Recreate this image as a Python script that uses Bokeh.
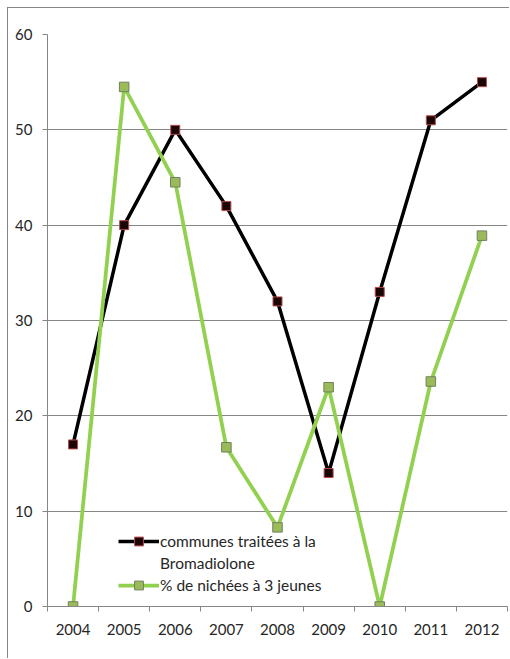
from bokeh.plotting import figure
from bokeh.models import Range1d, FixedTicker, Legend, LegendItem
from bokeh.embed import file_html
from bokeh.resources import INLINE

years = [2004, 2005, 2006, 2007, 2008, 2009, 2010, 2011, 2012]
communes = [17, 40, 50, 42, 32, 14, 33, 51, 55]
nichees = [0, 54.5, 44.5, 16.7, 8.3, 23, 0, 23.6, 38.9]
y_ticks = [0, 10, 20, 30, 40, 50, 60]
label_communes_1 = "communes traitées à la"
label_communes_2 = "Bromadiolone"
label_nichees = "% de nichées à 3 jeunes"

FONT = "Lato"
GRAY = "#868686"
TXT = "#262626"

p = figure(width=502, height=651, output_backend="svg", toolbar_location=None,
           x_range=Range1d(years[0] - 0.5, years[-1] + 0.5), y_range=Range1d(0, 60),
           min_border_left=39, min_border_right=3, min_border_top=26, min_border_bottom=53)
p.margin = (7, 0, 0, 7)
p.styles = {"border-top": "1px solid #868686", "border-left": "1px solid #868686"}
p.outline_line_color = None
p.background_fill_color = "white"
p.border_fill_color = "white"

# axes
p.xaxis.ticker = FixedTicker(ticks=years, minor_ticks=[y - 0.5 for y in years] + [years[-1] + 0.5])
p.xaxis.major_label_overrides = {y: str(y) for y in years}
p.xaxis.major_tick_out = 0
p.xaxis.major_tick_in = 0
p.xaxis.minor_tick_out = 5
p.xaxis.minor_tick_in = 0
p.xaxis.minor_tick_line_color = GRAY
p.xaxis.axis_line_color = GRAY
p.xaxis.major_label_standoff = 12
p.yaxis.ticker = FixedTicker(ticks=y_ticks)
p.yaxis.major_tick_out = 5
p.yaxis.major_tick_in = 0
p.yaxis.minor_tick_line_color = None
p.yaxis.major_tick_line_color = GRAY
p.yaxis.axis_line_color = GRAY
p.yaxis.major_label_standoff = 10
for ax in (p.xaxis, p.yaxis):
    ax.major_label_text_font = FONT
    ax.major_label_text_font_size = "15px"
    ax.major_label_text_color = TXT
p.xgrid.grid_line_color = None
p.ygrid.ticker = FixedTicker(ticks=y_ticks)
p.ygrid.grid_line_color = GRAY

r1 = p.line(years, communes, line_color="black", line_width=3.5)
m1 = p.scatter(years, communes, marker="square", size=9, fill_color="#1a0606", line_color="#b84a4a", line_width=1)
r2 = p.line(years, nichees, line_color="#92d050", line_width=3.75)
m2 = p.scatter(years, nichees, marker="square", size=9.5, fill_color="#9bbb59", line_color="#6f7f60", line_width=1)
blank = p.line([], [], line_alpha=0)

legend = Legend(items=[LegendItem(label=label_communes_1, renderers=[r1, m1]),
                       LegendItem(label=label_communes_2, renderers=[blank]),
                       LegendItem(label=label_nichees, renderers=[r2, m2])],
                location=(71, 10), glyph_width=41, glyph_height=22, label_standoff=1,
                padding=0, spacing=0, margin=0, border_line_color=None,
                background_fill_alpha=0, label_text_font=FONT, label_text_font_size="15.5px",
                label_text_color=TXT, label_height=22)
p.add_layout(legend)

open("out.html", "w").write(file_html(p, INLINE))
